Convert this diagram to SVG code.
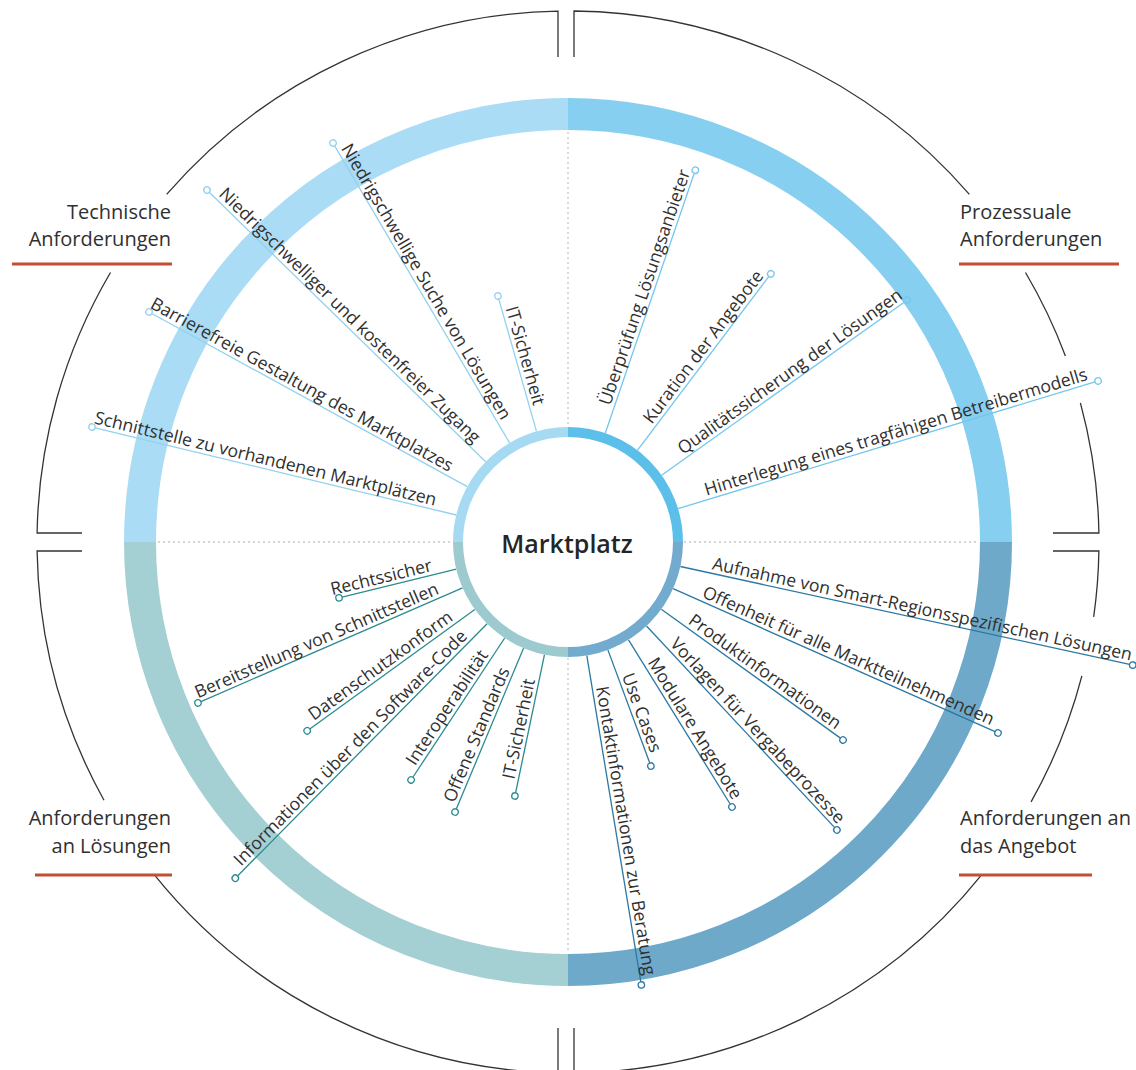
<svg xmlns="http://www.w3.org/2000/svg" width="1136" height="1070" viewBox="0 0 1136 1070">
<style>
  text { font-family: "Open Sans", "Noto Sans", "Liberation Sans", sans-serif; fill: #303030; }
  .lab { font-size: 17.6px; }
  .cat { font-size: 20px; }
  .ring { fill: none; stroke-width: 32; }
  .iring { fill: none; stroke-width: 10; }
  .outer { fill: none; stroke: #333; stroke-width: 1.3; }
  .under { stroke: #c24f35; stroke-width: 3; }
  .dash { stroke: #c8c8c8; stroke-width: 1.3; stroke-dasharray: 2 3; fill: none; }
  .c line { stroke-width: 1.3; }
  .dot { fill: none; stroke-width: 1.3; }
  .tl line, .tl .dot { stroke: #92d1ef; }
  .tr line, .tr .dot { stroke: #74c6ed; }
  .bl line, .bl .dot { stroke: #2b8b8e; }
  .br line, .br .dot { stroke: #2a78a5; }
</style>

<!-- big ring -->
<g id="ring">
  <path class="ring" stroke="#abdcf5" d="M 140 542 A 428 428 0 0 1 568 114"/>
  <path class="ring" stroke="#87cff0" d="M 568 114 A 428 428 0 0 1 996 542"/>
  <path class="ring" stroke="#6ea9ca" d="M 996 542 A 428 428 0 0 1 568 970"/>
  <path class="ring" stroke="#a4cfd3" d="M 568 970 A 428 428 0 0 1 140 542"/>
</g>

<!-- dashed guides -->
<g id="guides">
  <path class="dash" d="M 568 132 V 426 M 568 658 V 952 M 158 542 H 452 M 684 542 H 978"/>
</g>

<!-- outer brackets -->
<g id="brackets">
  <path class="outer" d="M 558 57 V 11.1 A 531 531 0 0 0 166.6 194.4"/>
  <path class="outer" d="M 110.5 272.5 A 531 531 0 0 0 37.1 533 H 82"/>
  <path class="outer" d="M 574 57 V 11 A 531 531 0 0 1 969.4 194.4"/>
  <path class="outer" d="M 1025.5 272.5 A 531 531 0 0 1 1065.4 356"/>
  <path class="outer" d="M 1080.4 402.8 A 531 531 0 0 1 1098.9 533 H 1053"/>
  <path class="outer" d="M 1053 551 H 1098.9 A 531 531 0 0 1 1093.7 616.8"/>
  <path class="outer" d="M 1081.9 675.9 A 531 531 0 0 1 1031.1 801.9"/>
  <path class="outer" d="M 981.8 874.7 A 531 531 0 0 1 574 1073 V 1028"/>
  <path class="outer" d="M 82 551 H 37.1 A 531 531 0 0 0 104 800.2"/>
  <path class="outer" d="M 154.2 874.7 A 531 531 0 0 0 558 1072.9 V 1028"/>
</g>

<!-- connectors -->
<g id="connectors" class="c">
  <g class="tl">
    <line transform="rotate(13.58 568 542)" x1="453" y1="542" x2="81.5" y2="542"/>
    <line transform="rotate(28.77 568 542)" x1="453" y1="542" x2="93.2" y2="542"/>
    <line transform="rotate(44.27 568 542)" x1="453" y1="542" x2="67" y2="542"/>
    <line transform="rotate(59.5 568 542)" x1="453" y1="542" x2="108.2" y2="542"/>
    <line transform="rotate(74.1 568 542)" x1="453" y1="542" x2="315.4" y2="542"/>
  </g>
  <g class="tr">
    <line transform="rotate(-71.1 568 542)" x1="683" y1="542" x2="957.8" y2="542"/>
    <line transform="rotate(-52.9 568 542)" x1="683" y1="542" x2="901" y2="542"/>
    <line transform="rotate(-35.5 568 542)" x1="683" y1="542" x2="981.3" y2="542"/>
    <line transform="rotate(-16.9 568 542)" x1="683" y1="542" x2="1118.8" y2="542"/>
  </g>
  <g class="bl">
    <line transform="rotate(-13.7 568 542)" x1="453" y1="542" x2="335.5" y2="542"/>
    <line transform="rotate(-23.5 568 542)" x1="453" y1="542" x2="167.7" y2="542"/>
    <line transform="rotate(-35.9 568 542)" x1="453" y1="542" x2="249.2" y2="542"/>
    <line transform="rotate(-45.3 568 542)" x1="453" y1="542" x2="98.2" y2="542"/>
    <line transform="rotate(-56.6 568 542)" x1="453" y1="542" x2="286.2" y2="542"/>
    <line transform="rotate(-67.3 568 542)" x1="453" y1="542" x2="278.5" y2="542"/>
    <line transform="rotate(-78.2 568 542)" x1="453" y1="542" x2="311.7" y2="542"/>
  </g>
  <g class="br">
    <line transform="rotate(12.3 568 542)" x1="683" y1="542" x2="1142.8" y2="542"/>
    <line transform="rotate(23.95 568 542)" x1="683" y1="542" x2="1035.3" y2="542"/>
    <line transform="rotate(35.75 568 542)" x1="683" y1="542" x2="903.7" y2="542"/>
    <line transform="rotate(46.96 568 542)" x1="683" y1="542" x2="958.8" y2="542"/>
    <line transform="rotate(58.25 568 542)" x1="683" y1="542" x2="876.4" y2="542"/>
    <line transform="rotate(69.7 568 542)" x1="683" y1="542" x2="803.7" y2="542"/>
    <line transform="rotate(80.6 568 542)" x1="683" y1="542" x2="1013.8" y2="542"/>
  </g>
</g>

<!-- inner ring / centre node -->
<g id="node-marktplatz">
  <circle cx="568" cy="542" r="105" fill="#fff"/>
  <path class="iring" stroke="#a6daf3" d="M 458 542 A 110 110 0 0 1 568 432"/>
  <path class="iring" stroke="#5bbfea" d="M 568 432 A 110 110 0 0 1 678 542"/>
  <path class="iring" stroke="#72abcd" d="M 678 542 A 110 110 0 0 1 568 652"/>
  <path class="iring" stroke="#9ccacf" d="M 568 652 A 110 110 0 0 1 458 542"/>
  <text x="567" y="553" text-anchor="middle" style="font-size:25px;font-weight:600;fill:#252525">Marktplatz</text>
</g>

<!-- category labels -->
<g id="cat-technische">
  <text class="cat" x="171" y="219" text-anchor="end">Technische</text>
  <text class="cat" x="171" y="246" text-anchor="end">Anforderungen</text>
  <line class="under" x1="12" y1="264" x2="172" y2="264"/>
</g>
<g id="cat-prozessuale">
  <text class="cat" x="960" y="219">Prozessuale</text>
  <text class="cat" x="960" y="246">Anforderungen</text>
  <line class="under" x1="959" y1="264" x2="1119" y2="264"/>
</g>
<g id="cat-loesungen">
  <text class="cat" x="171" y="825" text-anchor="end">Anforderungen</text>
  <text class="cat" x="171" y="853" text-anchor="end">an Lösungen</text>
  <line class="under" x1="35" y1="875" x2="172" y2="875"/>
</g>
<g id="cat-angebot">
  <text class="cat" x="960" y="825">Anforderungen an</text>
  <text class="cat" x="960" y="853">das Angebot</text>
  <line class="under" x1="959" y1="875" x2="1092" y2="875"/>
</g>

<!-- spoke labels: top-left -->
<g class="tl">
  <g id="n-schnittstelle" transform="rotate(13.58 568 542)"><circle class="dot" cx="78.3" cy="542" r="3.2"/><text class="lab" x="430" y="538" text-anchor="end">Schnittstelle zu vorhandenen Marktplätzen</text></g>
  <g id="n-barrierefrei" transform="rotate(28.77 568 542)"><circle class="dot" cx="90" cy="542" r="3.2"/><text class="lab" x="430" y="538" text-anchor="end">Barrierefreie Gestaltung des Marktplatzes</text></g>
  <g id="n-zugang" transform="rotate(44.27 568 542)"><circle class="dot" cx="63.8" cy="542" r="3.2"/><text class="lab" x="432" y="538" text-anchor="end">Niedrigschwelliger und kostenfreier Zugang</text></g>
  <g id="n-suche" transform="rotate(59.5 568 542)"><circle class="dot" cx="105" cy="542" r="3.2"/><text class="lab" x="430" y="538" text-anchor="end">Niedrigschwellige Suche von Lösungen</text></g>
  <g id="n-it1" transform="rotate(74.1 568 542)"><circle class="dot" cx="312.2" cy="542" r="3.2"/><text class="lab" x="428" y="538" text-anchor="end">IT-Sicherheit</text></g>
</g>

<!-- top-right -->
<g class="tr">
  <g id="n-ueberpruefung" transform="rotate(-71.1 568 542)"><circle class="dot" cx="961" cy="542" r="3.2"/><text class="lab" x="710" y="538">Überprüfung Lösungsanbieter</text></g>
  <g id="n-kuration" transform="rotate(-52.9 568 542)"><circle class="dot" cx="904.2" cy="542" r="3.2"/><text class="lab" x="712" y="538">Kuration der Angebote</text></g>
  <g id="n-qualitaet" transform="rotate(-35.5 568 542)"><circle class="dot" cx="984.5" cy="542" r="3.2"/><text class="lab" x="712" y="538">Qualitätssicherung der Lösungen</text></g>
  <g id="n-betreiber" transform="rotate(-16.9 568 542)"><circle class="dot" cx="1122" cy="542" r="3.2"/><text class="lab" x="714" y="538">Hinterlegung eines tragfähigen Betreibermodells</text></g>
</g>

<!-- bottom-left -->
<g class="bl">
  <g id="n-recht" transform="rotate(-13.7 568 542)"><circle class="dot" cx="332.3" cy="542" r="3.2"/><text class="lab" x="430" y="538" text-anchor="end">Rechtssicher</text></g>
  <g id="n-bereit" transform="rotate(-23.5 568 542)"><circle class="dot" cx="164.5" cy="542" r="3.2"/><text class="lab" x="430" y="538" text-anchor="end">Bereitstellung von Schnittstellen</text></g>
  <g id="n-daten" transform="rotate(-35.9 568 542)"><circle class="dot" cx="246" cy="542" r="3.2"/><text class="lab" x="430" y="538" text-anchor="end">Datenschutzkonform</text></g>
  <g id="n-info" transform="rotate(-45.3 568 542)"><circle class="dot" cx="95" cy="542" r="3.2"/><text class="lab" x="430" y="538" text-anchor="end">Informationen über den Software-Code</text></g>
  <g id="n-interop" transform="rotate(-56.6 568 542)"><circle class="dot" cx="283" cy="542" r="3.2"/><text class="lab" x="430" y="538" text-anchor="end">Interoperabilität</text></g>
  <g id="n-offen" transform="rotate(-67.3 568 542)"><circle class="dot" cx="275.3" cy="542" r="3.2"/><text class="lab" x="427" y="538" text-anchor="end">Offene Standards</text></g>
  <g id="n-it2" transform="rotate(-78.2 568 542)"><circle class="dot" cx="308.5" cy="542" r="3.2"/><text class="lab" x="426" y="538" text-anchor="end">IT-Sicherheit</text></g>
</g>

<!-- bottom-right -->
<g class="br">
  <g id="n-aufnahme" transform="rotate(12.3 568 542)"><circle class="dot" cx="1146" cy="542" r="3.2"/><text class="lab" x="714" y="538">Aufnahme von Smart-Regionsspezifischen Lösungen</text></g>
  <g id="n-offenheit" transform="rotate(23.95 568 542)"><circle class="dot" cx="1038.5" cy="542" r="3.2"/><text class="lab" x="712" y="538">Offenheit für alle Marktteilnehmenden</text></g>
  <g id="n-produkt" transform="rotate(35.75 568 542)"><circle class="dot" cx="906.9" cy="542" r="3.2"/><text class="lab" x="712" y="538">Produktinformationen</text></g>
  <g id="n-vorlagen" transform="rotate(46.96 568 542)"><circle class="dot" cx="962" cy="542" r="3.2"/><text class="lab" x="712" y="538">Vorlagen für Vergabeprozesse</text></g>
  <g id="n-modular" transform="rotate(58.25 568 542)"><circle class="dot" cx="879.6" cy="542" r="3.2"/><text class="lab" x="712" y="538">Modulare Angebote</text></g>
  <g id="n-usecases" transform="rotate(69.7 568 542)"><circle class="dot" cx="806.9" cy="542" r="3.2"/><text class="lab" x="712" y="538">Use Cases</text></g>
  <g id="n-kontakt" transform="rotate(80.6 568 542)"><circle class="dot" cx="1017" cy="542" r="3.2"/><text class="lab" x="716" y="538">Kontaktinformationen zur Beratung</text></g>
</g>
</svg>
